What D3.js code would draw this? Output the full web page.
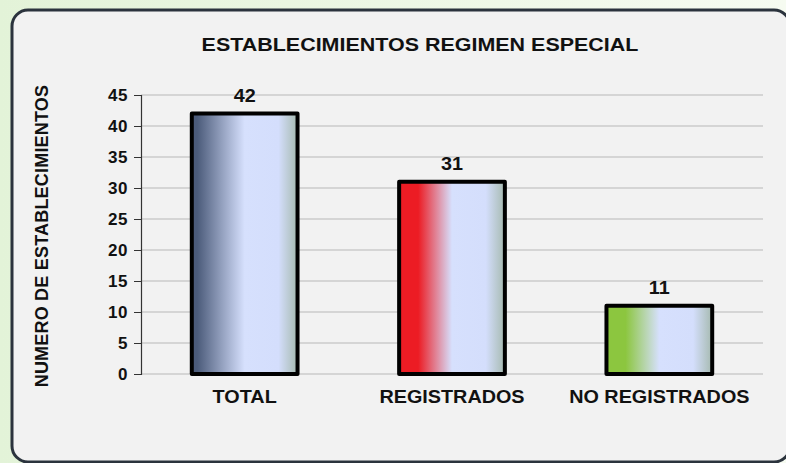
<!DOCTYPE html>
<html>
<head>
<meta charset="utf-8">
<script src="https://cdn.jsdelivr.net/npm/d3@7"></script>
<style>
  html, body { margin: 0; padding: 0; background: #fff; }
  svg { display: block; }
  text { font-family: Arial, "Liberation Sans", sans-serif; font-weight: bold; fill: #111; }
</style>
</head>
<body>
<script>
(function(document, window){
'use strict';

var categories = ['TOTAL', 'REGISTRADOS', 'NO REGISTRADOS'];
var values = [42, 31, 11];
var baseColors = ['#4b5b7a', '#ec1c24', '#8cc63f'];
var yTicks = [0, 5, 10, 15, 20, 25, 30, 35, 40, 45];

var W = 786, H = 463;
var m = {left: 141, right: 23, top: 95, bottom: 89};
var stretch = 1.1;

var svg = d3.select('body').append('svg')
  .attr('width', W)
  .attr('height', H);

var defs = svg.append('defs');

var bgGrad = defs.append('linearGradient').attr('id', 'bg')
  .attr('x1', '0').attr('y1', '0').attr('x2', '1').attr('y2', '0');
bgGrad.append('stop').attr('offset', '0').attr('stop-color', '#e3f3d8');
bgGrad.append('stop').attr('offset', '1').attr('stop-color', '#f6fbf1');

svg.append('rect').attr('width', W).attr('height', H).attr('fill', 'url(#bg)');

// panel
svg.append('rect')
  .attr('x', 12).attr('y', 10)
  .attr('width', 778).attr('height', 452)
  .attr('rx', 16).attr('ry', 16)
  .attr('fill', '#f2f2f2')
  .attr('stroke', '#2b333d')
  .attr('stroke-width', 3);

// bar gradients
baseColors.forEach(function(c, i){
  var g = defs.append('linearGradient').attr('id', 'bar' + i)
    .attr('x1', '0').attr('y1', '0').attr('x2', '1').attr('y2', '0');
  g.append('stop').attr('offset', '0').attr('stop-color', c);
  g.append('stop').attr('offset', i === 0 ? '0.05' : '0.18').attr('stop-color', c);
  g.append('stop').attr('offset', '0.5').attr('stop-color', '#d6e0fd');
  g.append('stop').attr('offset', '0.82').attr('stop-color', '#d4defc');
  g.append('stop').attr('offset', '1').attr('stop-color', '#a6bab0');
});

var x = d3.scaleBand()
  .domain(categories)
  .range([m.left, W - m.right])
  .paddingInner(0.49)
  .paddingOuter(0.245);

var y = d3.scaleLinear()
  .domain([0, 45])
  .range([H - m.bottom, m.top]);

// gridlines
svg.append('g')
  .selectAll('line')
  .data(yTicks)
  .enter()
  .append('line')
  .attr('x1', m.left).attr('x2', W - m.right)
  .attr('y1', function(d){ return y(d); })
  .attr('y2', function(d){ return y(d); })
  .attr('stroke', '#b8b8b8')
  .attr('stroke-width', 1.2);

// y axis
var yAxis = svg.append('g')
  .attr('transform', 'translate(' + m.left + ',0)')
  .call(d3.axisLeft(y).tickValues(yTicks).tickSize(7).tickPadding(6));
yAxis.select('.domain').attr('stroke', '#333').attr('stroke-width', 1.2);
yAxis.selectAll('.tick line').attr('stroke', '#333');
yAxis.selectAll('text')
  .attr('font-size', 17)
  .attr('dy', '0.35em')
  .attr('letter-spacing', 0.5)
  .attr('font-family', 'Arial, "Liberation Sans", sans-serif')
  .attr('font-weight', 'bold')
  .attr('fill', '#111');

// bars
svg.append('g')
  .selectAll('rect')
  .data(values)
  .enter()
  .append('rect')
  .attr('x', function(d, i){ return x(categories[i]); })
  .attr('y', function(d){ return y(d); })
  .attr('width', x.bandwidth())
  .attr('height', function(d){ return y(0) - y(d); })
  .attr('fill', function(d, i){ return 'url(#bar' + i + ')'; })
  .attr('stroke', '#000')
  .attr('stroke-width', 4)
  .attr('stroke-linejoin', 'round');

// value labels
svg.append('g')
  .selectAll('text')
  .data(values)
  .enter()
  .append('text')
  .attr('transform', function(d, i){
    return 'translate(' + (x(categories[i]) + x.bandwidth() / 2) + ',' + (y(d) - 12) + ') scale(' + stretch + ',1)';
  })
  .attr('text-anchor', 'middle')
  .attr('font-size', 18)
  .text(function(d){ return d; });

// category labels
svg.append('g')
  .selectAll('text')
  .data(categories)
  .enter()
  .append('text')
  .attr('transform', function(d){
    return 'translate(' + (x(d) + x.bandwidth() / 2) + ',' + (y(0) + 29) + ') scale(' + stretch + ',1)';
  })
  .attr('text-anchor', 'middle')
  .attr('font-size', 18)
  .text(function(d){ return d; });

// title
svg.append('text')
  .attr('transform', 'translate(420,51) scale(1.13,1)')
  .attr('text-anchor', 'middle')
  .attr('font-size', 19)
  .text('ESTABLECIMIENTOS REGIMEN ESPECIAL');

// y label
svg.append('text')
  .attr('transform', 'translate(48,' + 236 + ') rotate(-90)')
  .attr('text-anchor', 'middle')
  .attr('font-size', 18)
  .attr('letter-spacing', 0.2)
  .text('NUMERO DE ESTABLECIMIENTOS');

})(document, window);
</script>
</body>
</html>
